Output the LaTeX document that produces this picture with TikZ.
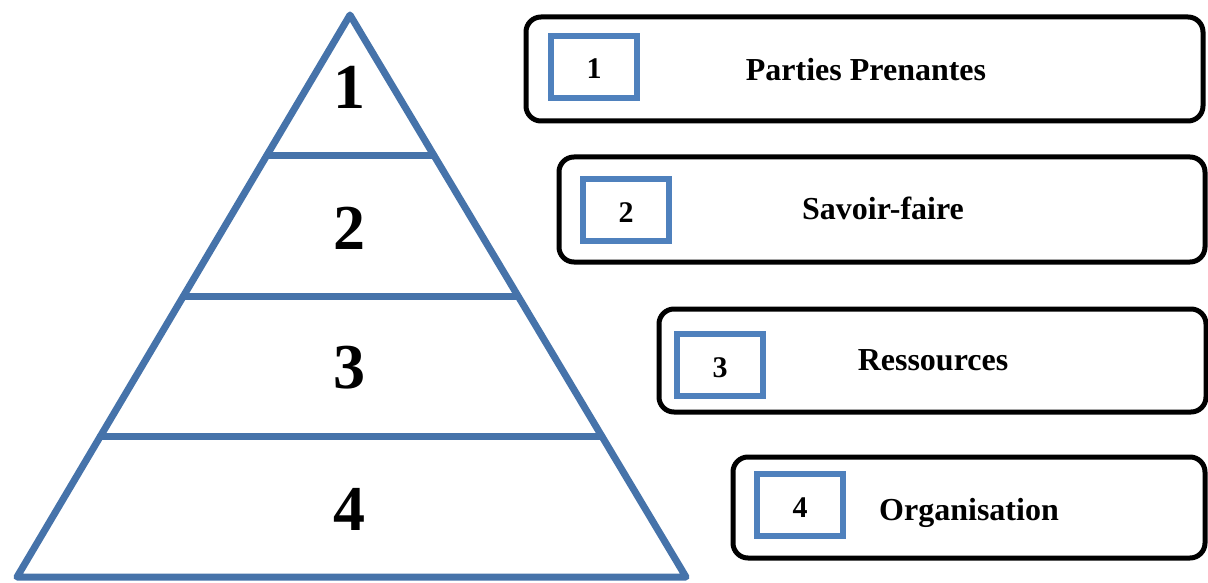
\documentclass[tikz,border=0pt]{standalone}
\usepackage{fontspec}
\setmainfont{Liberation Serif}
\usetikzlibrary{calc}
\definecolor{pyrblue}{RGB}{70,115,170}
\definecolor{sqblue}{RGB}{79,129,189}
\begin{document}
\begin{tikzpicture}[x=1pt,y=-1pt,
  pyrline/.style={draw=pyrblue,line width=7pt,line join=round,line cap=round},
  outerbox/.style={draw=black,line width=5pt,rounded corners=15pt,inner sep=0pt,fill=white},
  numbox/.style={draw=sqblue,line width=6.5pt,inner sep=0pt,minimum width=86pt,minimum height=62pt},
  boxdigit/.style={font=\bfseries\fontsize{30}{30}\selectfont,inner sep=0pt},
  bigdigit/.style={font=\bfseries\fontsize{64}{64}\selectfont,inner sep=0pt},
  label/.style={font=\bfseries\fontsize{32}{32}\selectfont,inner sep=0pt}]
\useasboundingbox (0,0) rectangle (1208,583);

% pyramid outline and levels
\coordinate (apex) at (350,15);
\coordinate (bl) at (17,577);
\coordinate (br) at (686,577);
\coordinate (l1) at ($(apex)!0.25!(bl)$);
\coordinate (l2) at ($(apex)!0.5!(bl)$);
\coordinate (l3) at ($(apex)!0.75!(bl)$);
\coordinate (r1) at ($(apex)!0.25!(br)$);
\coordinate (r2) at ($(apex)!0.5!(br)$);
\coordinate (r3) at ($(apex)!0.75!(br)$);
\draw[pyrline] (apex) -- (bl) -- (br) -- cycle;
\draw[pyrline] (l1) -- (r1);
\draw[pyrline] (l2) -- (r2);
\draw[pyrline] (l3) -- (r3);

\node[bigdigit] (p1) at (349,87) {1};
\node[bigdigit] (p2) at (349,228) {2};
\node[bigdigit] (p3) at (349,368) {3};
\node[bigdigit] (p4) at (349,509) {4};

% legend boxes
\node[outerbox,minimum width=677pt,minimum height=104pt] (b1) at (864.5,69) {};
\node[outerbox,minimum width=646pt,minimum height=105pt] (b2) at (882,209.5) {};
\node[outerbox,minimum width=547pt,minimum height=103pt] (b3) at (932.5,360.5) {};
\node[outerbox,minimum width=472pt,minimum height=101pt] (b4) at (969,507.5) {};

\node[numbox] (n1) at (594,67) {};
\node[numbox] (n2) at (626,210) {};
\node[numbox] (n3) at (720,365) {};
\node[numbox] (n4) at (800,505) {};

\node[boxdigit] (d1) at (594,69) {1};
\node[boxdigit] (d2) at (626,213) {2};
\node[boxdigit] (d3) at (720,368) {3};
\node[boxdigit] (d4) at (800,508) {4};

\node[label] (t1) at (866,70) {Parties Prenantes};
\node[label] (t2) at (883,208) {Savoir-faire};
\node[label] (t3) at (933,360) {Ressources};
\node[label] (t4) at (969,513) {Organisation};
\end{tikzpicture}
\end{document}
